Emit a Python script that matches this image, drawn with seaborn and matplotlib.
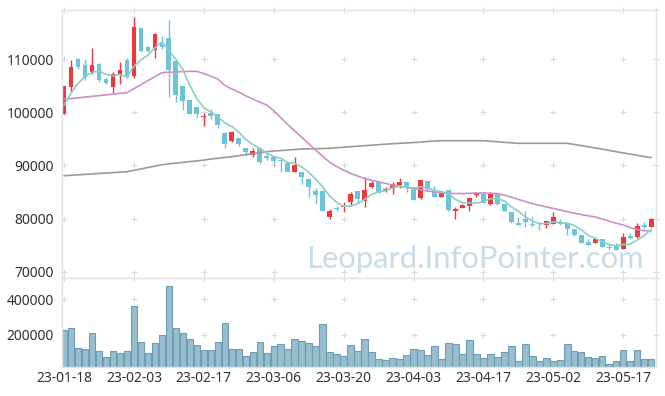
import numpy as np
import pandas as pd
import matplotlib
matplotlib.use("Agg")
import matplotlib.pyplot as plt
import seaborn as sns

# ---------------- data ----------------
dates = [
    "23-01-18", "23-01-19", "23-01-20", "23-01-25", "23-01-26", "23-01-27", "23-01-30", "23-01-31",
    "23-02-01", "23-02-02", "23-02-03", "23-02-06", "23-02-07", "23-02-08", "23-02-09", "23-02-10",
    "23-02-13", "23-02-14", "23-02-15", "23-02-16", "23-02-17", "23-02-20", "23-02-21", "23-02-22",
    "23-02-23", "23-02-24", "23-02-27", "23-02-28", "23-03-02", "23-03-03", "23-03-06", "23-03-07",
    "23-03-08", "23-03-09", "23-03-10", "23-03-13", "23-03-14", "23-03-15", "23-03-16", "23-03-17",
    "23-03-20", "23-03-21", "23-03-22", "23-03-23", "23-03-24", "23-03-27", "23-03-28", "23-03-29",
    "23-03-30", "23-03-31", "23-04-03", "23-04-04", "23-04-05", "23-04-06", "23-04-07", "23-04-10",
    "23-04-11", "23-04-12", "23-04-13", "23-04-14", "23-04-17", "23-04-18", "23-04-19", "23-04-20",
    "23-04-21", "23-04-24", "23-04-25", "23-04-26", "23-04-27", "23-04-28", "23-05-02", "23-05-03",
    "23-05-04", "23-05-08", "23-05-09", "23-05-10", "23-05-11", "23-05-12", "23-05-15", "23-05-16",
    "23-05-17", "23-05-18", "23-05-19", "23-05-22", "23-05-23",
]

open_ = [
    99620, 104820, 110090, 108900, 107640, 109090, 106270, 104820, 107020, 109850,
    106890, 115820, 112300, 111790, 113100, 113990, 109660, 104950, 102370, 101000,
    99120, 99920, 99620, 96100, 94650, 95160, 93280, 92020, 93280, 91830,
    91580, 91070, 90510, 88700, 88760, 87440, 85240, 85180, 80340, 81980,
    82220, 83050, 85120, 83240, 85880, 86880, 85310, 85610, 86310, 86880,
    85880, 83800, 87070, 85050, 84110, 85370, 81470, 82040, 82420, 84370,
    84620, 82680, 84600, 82730, 81280, 79210, 79910, 79020, 79150, 78720,
    79020, 79290, 79150, 78080, 76840, 75580, 75450, 76090, 74690, 75010,
    74260, 76710, 76460, 78830, 78460,
]
high = [
    104950, 109850, 110200, 110090, 112050, 109200, 106460, 107530, 109420, 110170,
    117870, 116000, 112500, 114930, 114420, 117320, 109700, 105000, 102400, 101000,
    99920, 100560, 99650, 96230, 96540, 95290, 93300, 93220, 93300, 92390,
    91700, 91070, 90640, 91530, 88760, 87440, 85800, 85300, 81790, 82420,
    83050, 85050, 85240, 87760, 87060, 86900, 85880, 86940, 87570, 86900,
    86000, 87300, 87100, 86120, 85180, 85400, 82220, 82680, 83990, 85050,
    84700, 85050, 84860, 82800, 81300, 80230, 81470, 80480, 79400, 79590,
    81230, 79970, 79200, 78100, 76850, 76090, 76460, 76100, 75140, 75330,
    77210, 77210, 79210, 79340, 80100,
]
low = [
    99620, 103770, 108100, 106080, 107160, 105760, 105330, 103690, 105270, 106400,
    106400, 111410, 111400, 110170, 111900, 102940, 101990, 100430, 99700, 98980,
    97420, 98740, 97100, 93220, 94460, 93600, 91830, 91530, 90320, 90960,
    90080, 88700, 88700, 88700, 86500, 84110, 82730, 81400, 79850, 81470,
    81280, 82420, 82980, 82220, 85690, 84800, 84940, 84620, 85750, 84940,
    83500, 83700, 85050, 84000, 83990, 81500, 79850, 81920, 81410, 84110,
    82900, 82600, 82600, 81400, 79210, 78700, 78460, 78460, 77840, 78270,
    79000, 78720, 76890, 76800, 75300, 74880, 75400, 74600, 74070, 74000,
    74200, 76090, 76400, 78020, 78350,
]
close = [
    104950, 108530, 108470, 106700, 108900, 106080, 105520, 107160, 107970, 106590,
    116000, 111600, 111600, 114690, 112240, 108020, 103260, 102130, 99740, 99740,
    99360, 99300, 97610, 94090, 96230, 94030, 92530, 92770, 90700, 91450,
    90890, 90920, 88760, 90080, 87870, 85990, 84480, 81470, 81410, 81850,
    82420, 84560, 83670, 85370, 86630, 84860, 85560, 86440, 86880, 85880,
    83540, 87250, 85500, 84110, 84940, 81600, 81790, 82490, 83860, 84750,
    82980, 84540, 82680, 81470, 79400, 78720, 79400, 78780, 78910, 79480,
    80230, 78910, 78020, 76840, 75330, 75070, 76090, 74640, 74450, 74010,
    76460, 76330, 78590, 78400, 79910,
]
volume = [
    224600, 234300, 125700, 120000, 211400, 108600, 74300, 108600, 97100, 108600,
    360000, 160000, 97100, 154300, 200000, 474300, 234300, 211400, 177100, 142900,
    114300, 114300, 160000, 262900, 120000, 120000, 80000, 102900, 160000, 97100,
    137100, 148600, 120000, 177100, 165700, 154300, 137100, 257100, 102900, 91400,
    80000, 142900, 108600, 177100, 102900, 60600, 54900, 66300, 60600, 85700,
    120000, 114300, 85700, 137100, 60600, 154300, 148600, 91400, 171400, 91400,
    66300, 91400, 74300, 102900, 137100, 51400, 148600, 80000, 51400, 66300,
    51400, 54900, 148600, 108600, 102900, 74300, 66300, 80000, 34300, 51400,
    114300, 51400, 114300, 60600, 60600,
]
# 5-day average: first four points (they depend on earlier sessions)
ma5_head = [101370, 103580, 105460, 106700]
ma20 = [
    102450, 102580, 102720, 102860, 103000, 103140, 103280, 103420, 103560, 103690,
    104450, 105200, 105950, 106700, 107460, 107540, 107600, 107660, 107720, 107700,
    107300, 106800, 106250, 105050, 104400, 103800, 103100, 102500, 101900, 101370,
    100300, 99000, 97700, 96500, 95300, 94100, 92900, 91700, 90600, 89800,
    89100, 88500, 88000, 87550, 87200, 86900, 86600, 86300, 86050, 85850,
    85650, 85450, 85200, 85000, 84850, 84750, 84700, 84700, 84750, 84800,
    84800, 84750, 84700, 84400, 84000, 83600, 83200, 82800, 82500, 82200,
    81900, 81600, 81300, 81000, 80750, 80500, 80300, 79900, 79500, 79100,
    78800, 78300, 77900, 77700, 77700,
]
ma120 = [
    88060, 88140, 88230, 88310, 88390, 88480, 88560, 88640, 88730, 88810,
    89070, 89340, 89600, 89870, 90130, 90280, 90430, 90570, 90720, 90850,
    91000, 91200, 91350, 91500, 91640, 91830, 92020, 92200, 92390, 92580,
    92690, 92800, 92900, 93000, 93090, 93120, 93150, 93180, 93220, 93320,
    93420, 93520, 93620, 93710, 93800, 93900, 94000, 94080, 94160, 94230,
    94300, 94380, 94500, 94600, 94650, 94650, 94650, 94650, 94650, 94650,
    94650, 94550, 94450, 94350, 94250, 94160, 94160, 94160, 94160, 94160,
    94160, 94160, 94160, 93950, 93730, 93500, 93280, 93060, 92820, 92580,
    92350, 92130, 91900, 91680, 91450,
]
price_ticks = [70000, 80000, 90000, 100000, 110000]
volume_ticks = [200000, 400000]
watermark = "Leopard.InfoPointer.com"

# ---------------- styling ----------------
sns.set_theme(style="white")
plt.rcParams['font.family'] = ['Noto Sans', 'DejaVu Sans']

UP = "#F0383C"
DOWN = "#6CC3DA"
C_MA5 = "#8ACFC4"
C_MA20 = "#CB8FCA"
C_MA120 = "#9A9A9A"
VOL_FACE = "#97BDCE"
VOL_EDGE = "#6E9DB4"
FRAME = "#E3E3E3"
GRIDMARK = "#DADADA"
TXT = "#333333"

df = pd.DataFrame({
    "date": dates, "open": open_, "high": high, "low": low, "close": close,
    "volume": volume, "ma20": ma20, "ma120": ma120,
})
df["idx"] = np.arange(len(df))
ma5 = df["close"].rolling(5).mean()
ma5.iloc[:4] = ma5_head
df["ma5"] = ma5

W, H = 665, 396
fig = plt.figure(figsize=(W / 100, H / 100), dpi=100)
left, right = 62, 655.5
top_p, bot_p, bot_v = 10, 278, 367
ax = fig.add_axes([left / W, 1 - bot_p / H, (right - left) / W, (bot_p - top_p) / H])
ax2 = fig.add_axes([left / W, 1 - bot_v / H, (right - left) / W, (bot_v - bot_p) / H], sharex=ax)

xmin, xmax = -0.29, 84.62
pmin, pmax = 68800, 119260
vmin, vmax = 15000, 521700

# candles
up = df["close"] >= df["open"]
colors = np.where(up, UP, DOWN)
body_low = np.minimum(df["open"], df["close"])
body_h = np.maximum(np.abs(df["close"] - df["open"]), 180)
ax.vlines(df["idx"], df["low"], df["high"], colors=colors, lw=1.0, zorder=2)
ax.bar(df["idx"], body_h, bottom=body_low, width=0.68, color=colors, linewidth=0, zorder=2.5)

# moving averages
sns.lineplot(data=df, x="idx", y="ma120", ax=ax, color=C_MA120, lw=1.2, zorder=3, legend=False)
sns.lineplot(data=df, x="idx", y="ma20", ax=ax, color=C_MA20, lw=1.2, zorder=3, legend=False)
sns.lineplot(data=df, x="idx", y="ma5", ax=ax, color=C_MA5, lw=1.2, zorder=3.2, legend=False)

# watermark
ax.text(0.981, 0.037, watermark, transform=ax.transAxes, ha="right", va="baseline",
        fontsize=22.3, color="#C9DBE6", family=["Lato", "DejaVu Sans"], zorder=1)

# volume
sns.barplot(data=df, x="idx", y="volume", ax=ax2, native_scale=True, color=VOL_FACE,
            saturation=1, width=0.92, edgecolor=VOL_EDGE, linewidth=0.8, errorbar=None, zorder=2)

tick_pos = df["idx"].iloc[::10].to_numpy()
tick_lab = df["date"].iloc[::10].tolist()

for a, ylo, yhi, yt in ((ax, pmin, pmax, price_ticks), (ax2, vmin, vmax, volume_ticks)):
    a.set_xlim(xmin, xmax)
    a.set_ylim(ylo, yhi)
    a.set_yticks(yt)
    a.set_yticklabels([str(v) for v in yt])
    a.set_xlabel("")
    a.set_ylabel("")
    a.grid(False)
    for s in a.spines.values():
        s.set_color(FRAME)
        s.set_linewidth(1.0)
        s.set_visible(True)
    a.tick_params(axis="both", length=0, labelsize=10, labelcolor=TXT)
    a.tick_params(axis="y", pad=6)
    # light "+" marks at grid crossings
    gx = list(tick_pos) + [xmax]
    gy = list(yt) + [yhi]
    GX, GY = np.meshgrid(gx, gy)
    a.scatter(GX.ravel(), GY.ravel(), marker="+", s=22, color=GRIDMARK, linewidths=0.8,
              zorder=0.5, clip_on=False)

ax.set_xticks(tick_pos)
ax.tick_params(axis="x", labelbottom=False)
ax2.set_xticks(tick_pos)
ax2.set_xticklabels(tick_lab)
ax2.tick_params(axis="x", pad=3, labelbottom=True)

fig.savefig("out.png", dpi=100, facecolor="white")
